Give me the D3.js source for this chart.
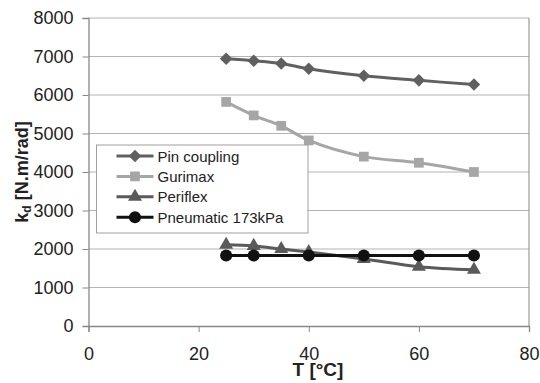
<!DOCTYPE html>
<meta charset="utf-8">
<script src="https://d3js.org/d3.v7.min.js"></script>
<style>
    body { margin: 0; background: #fff; }
    svg text { font-family: "Liberation Sans", Arial, sans-serif; }
</style>
<div id="chart"></div>
<script>
    // Data
    const temps = [25, 30, 35, 40, 50, 60, 70];
    const pinCoupling = [6940, 6890, 6820, 6680, 6500, 6380, 6270];
    const gurimax = [5820, 5470, 5200, 4820, 4400, 4240, 4000];
    const periflex = [2110, 2080, 2000, 1920, 1740, 1540, 1460];
    const pneumaticTemps = [25, 30, 40, 50, 60, 70];
    const pneumatic = [1830, 1830, 1830, 1830, 1830, 1830];

    const xTicks = [0, 20, 40, 60, 80];
    const yTicks = [0, 1000, 2000, 3000, 4000, 5000, 6000, 7000, 8000];

    const series = [
        { name: "Pin coupling", xs: temps, ys: pinCoupling, color: "#606060", marker: "diamond" },
        { name: "Gurimax", xs: temps, ys: gurimax, color: "#a6a6a6", marker: "square" },
        { name: "Periflex", xs: temps, ys: periflex, color: "#5a5a5a", marker: "triangle" },
        { name: "Pneumatic 173kPa", xs: pneumaticTemps, ys: pneumatic, color: "#111111", marker: "circle" }
    ];

    const W = 540, H = 383;
    const margin = { top: 18, right: 11, bottom: 57, left: 88.5 };
    const width = W - margin.left - margin.right,
        height = H - margin.top - margin.bottom;

    const svg = d3.select("#chart").append("svg")
        .attr("width", W).attr("height", H);
    const g = svg.append("g")
        .attr("transform", "translate(" + margin.left + "," + margin.top + ")");

    const x = d3.scaleLinear().domain([0, 80]).range([0, width]);
    const y = d3.scaleLinear().domain([0, 8000]).range([height, 0]);

    // gridlines
    g.append("g").selectAll("line").data(yTicks.slice(1)).join("line")
        .attr("x1", 0).attr("x2", width)
        .attr("y1", d => y(d)).attr("y2", d => y(d))
        .attr("stroke", "#b4b4b4").attr("stroke-width", 1.2);

    // right border
    g.append("line").attr("x1", width).attr("x2", width).attr("y1", 0).attr("y2", height)
        .attr("stroke", "#9a9a9a").attr("stroke-width", 1.2);

    // axes
    const yAxis = g.append("g")
        .call(d3.axisLeft(y).tickValues(yTicks).tickSize(6).tickPadding(9).tickFormat(d3.format("d")));
    const xAxis = g.append("g").attr("transform", "translate(0," + height + ")")
        .call(d3.axisBottom(x).tickValues(xTicks).tickSize(6).tickPadding(15));
    [xAxis, yAxis].forEach(a => {
        a.select(".domain").attr("stroke", "#888").attr("stroke-width", 1.3);
        a.selectAll(".tick line").attr("stroke", "#888");
        a.selectAll("text").attr("font-size", 18).attr("fill", "#222")
            .attr("font-family", "Liberation Sans, Arial, sans-serif");
    });

    const symbols = {
        diamond: d3.symbol().type(d3.symbolDiamond2 || d3.symbolDiamond).size(100),
        square: d3.symbol().type(d3.symbolSquare).size(95),
        triangle: d3.symbol().type(d3.symbolTriangle).size(85),
        circle: d3.symbol().type(d3.symbolCircle).size(115)
    };

    const line = d3.line().curve(d3.curveCatmullRom)
        .x(d => x(d[0])).y(d => y(d[1]));

    series.forEach(s => {
        const pts = s.xs.map((t, i) => [t, s.ys[i]]);
        g.append("path").datum(pts)
            .attr("d", line)
            .attr("fill", "none")
            .attr("stroke", s.color)
            .attr("stroke-width", 3);
        g.append("g").selectAll("path").data(pts).join("path")
            .attr("transform", d => "translate(" + x(d[0]) + "," + y(d[1]) + ")")
            .attr("d", symbols[s.marker])
            .attr("fill", s.color);
    });

    // legend
    const lg = svg.append("g").attr("transform", "translate(96.5,145)");
    lg.append("rect").attr("width", 211.5).attr("height", 88)
        .attr("fill", "#fff").attr("stroke", "#a0a0a0").attr("stroke-width", 1);
    series.forEach((s, i) => {
        const cy = 11 + i * 20.4;
        lg.append("line").attr("x1", 20).attr("x2", 57).attr("y1", cy).attr("y2", cy)
            .attr("stroke", s.color).attr("stroke-width", 3);
        lg.append("path").attr("transform", "translate(38.5," + cy + ")")
            .attr("d", symbols[s.marker]).attr("fill", s.color);
        lg.append("text").attr("x", 61).attr("y", cy + 5.5)
            .attr("font-size", 15).attr("fill", "#222").text(s.name);
    });

    // axis titles
    svg.append("text")
        .attr("x", 318).attr("y", 376)
        .attr("text-anchor", "middle")
        .attr("font-size", 19).attr("font-weight", "bold").attr("fill", "#222")
        .text("T [°C]");

    const yt = svg.append("text")
        .attr("transform", "translate(28," + (margin.top + height / 2) + ") rotate(-90)")
        .attr("text-anchor", "middle")
        .attr("font-size", 18).attr("font-weight", "bold").attr("fill", "#222");
    yt.append("tspan").text("k");
    yt.append("tspan").attr("font-size", 12).attr("dy", 3).text("d");
    yt.append("tspan").attr("dy", -3).text(" [N.m/rad]");
</script>
